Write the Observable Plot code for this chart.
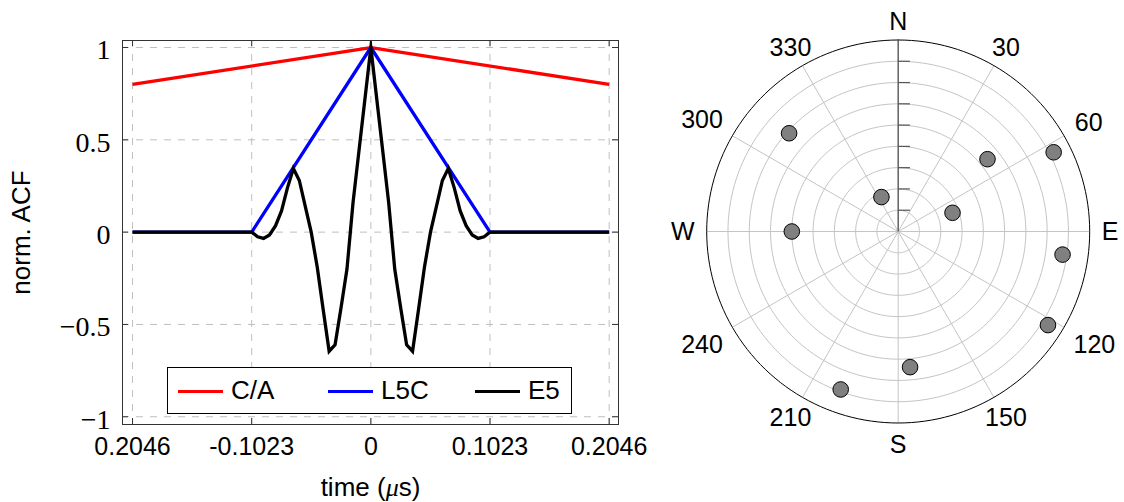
<!DOCTYPE html>
<html>
<head>
<meta charset="utf-8">
<script src="https://cdn.jsdelivr.net/npm/d3@7"></script>
<script src="https://cdn.jsdelivr.net/npm/@observablehq/plot@0.6"></script>
<style>
  html, body { margin: 0; padding: 0; background: #fff; }
  #wrap { position: relative; width: 1124px; height: 502px; overflow: hidden; font-family: "Liberation Sans", Arial, sans-serif; }
  #acf { position: absolute; left: 0; top: 0; }
  #sky { position: absolute; left: 650px; top: 0; }
  #legend { position: absolute; left: 167px; top: 367px; width: 405px; height: 47px; border: 1px solid #000; background: #fff; box-sizing: border-box; }
  #legend .sw { position: absolute; width: 45px; height: 3.3px; top: 21.8px; }
  #legend .lb { position: absolute; top: 8.5px; font-size: 26px; line-height: 26px; color: #000; }
</style>
</head>
<body>
<div id="wrap">
  <div id="acf"></div>
  <div id="sky"></div>
  <div id="legend"></div>
</div>
<script>
// ---- Autocorrelation functions (time offset in µs, normalised ACF) ----
const caTime = [-0.2046, 0, 0.2046];
const caValue = [0.8, 1, 0.8];

const l5cTime = [-0.2046, -0.1023, 0, 0.1023, 0.2046];
const l5cValue = [0, 0, 1, 0, 0];

const e5Time = [
  -0.2046, -0.1023, -0.0972, -0.0921, -0.0870, -0.0818, -0.0767, -0.0716, -0.0665,
  -0.0614, -0.0563, -0.0512, -0.0460, -0.0409, -0.0358, -0.0307, -0.0256, -0.0205,
  -0.0153, -0.0102, -0.0051, 0,
  0.0051, 0.0102, 0.0153, 0.0205, 0.0256, 0.0307, 0.0358, 0.0409, 0.0460, 0.0512,
  0.0563, 0.0614, 0.0665, 0.0716, 0.0767, 0.0818, 0.0870, 0.0921, 0.0972, 0.1023, 0.2046
];
const e5Value = [
  0, 0, -0.025, -0.034, -0.015, 0.035, 0.115, 0.24, 0.345,
  0.28, 0.14, 0.0, -0.19, -0.42, -0.645, -0.61, -0.41, -0.2,
  0.16, 0.44, 0.72, 1,
  0.72, 0.44, 0.16, -0.2, -0.41, -0.61, -0.645, -0.42, -0.19, 0.0,
  0.14, 0.28, 0.345, 0.24, 0.115, 0.035, -0.015, -0.034, -0.025, 0, 0
];

const seriesNames = ["C/A", "L5C", "E5"];
const seriesColors = ["#ff0000", "#0000ff", "#000000"];

const xTickValues = [-0.2046, -0.1023, 0, 0.1023, 0.2046];
const xTickLabels = ["0.2046", "-0.1023", "0", "0.1023", "0.2046"];
const yTickValues = [-1, -0.5, 0, 0.5, 1];
const yTickLabels = ["\u22121", "\u22120.5", "0", "0.5", "1"];

// ---- Sky plot: satellite azimuth / elevation in degrees ----
const satAzimuth = [312, 51, 63, 334, 71, 270, 98, 122, 175, 200];
const satElevation = [21, 36, 8, 72, 63, 40, 12, 7, 26, 11];

const ringElevations = [80, 70, 60, 50, 40, 30, 20, 10];
const spokeAzimuths = [0, 30, 60, 90, 120, 150, 180, 210, 240, 270, 300, 330];
const compassLabels = ["N", "30", "60", "E", "120", "150", "S", "210", "240", "W", "300", "330"];

// ---------------------------------------------------------------------------
const toRows = (t, v) => t.map((x, i) => ({t: x, v: v[i]}));
const caRows = toRows(caTime, caValue);
const l5cRows = toRows(l5cTime, l5cValue);
const e5Rows = toRows(e5Time, e5Value);

const gridStyle = {stroke: "#bfbfbf", strokeOpacity: 1, strokeWidth: 1, strokeDasharray: "7,7"};
const tickStyle = {stroke: "#333", strokeWidth: 1};
const plotH = 502 - 40 - 78;
const plotW = 650 - 122 - 32;
const tickLen = 6;

const acf = Plot.plot({
  width: 650,
  height: 502,
  marginLeft: 122,
  marginRight: 32,
  marginTop: 40,
  marginBottom: 78,
  x: {domain: [-0.2132, 0.2126], axis: null},
  y: {domain: [-1.042, 1.038], axis: null},
  marks: [
    Plot.ruleX(xTickValues, {x: d => d, ...gridStyle}),
    Plot.ruleY(yTickValues, {y: d => d, ...gridStyle}),
    // inward ticks on all four sides
    Plot.ruleX(xTickValues, {x: d => d, insetTop: plotH - tickLen, ...tickStyle}),
    Plot.ruleX(xTickValues, {x: d => d, insetBottom: plotH - tickLen, ...tickStyle}),
    Plot.ruleY(yTickValues, {y: d => d, insetRight: plotW - tickLen, ...tickStyle}),
    Plot.ruleY(yTickValues, {y: d => d, insetLeft: plotW - tickLen, ...tickStyle}),
    Plot.line(caRows, {x: "t", y: "v", stroke: seriesColors[0], strokeWidth: 3.3, strokeLinejoin: "miter", strokeLinecap: "butt"}),
    Plot.line(l5cRows, {x: "t", y: "v", stroke: seriesColors[1], strokeWidth: 3.3, strokeLinejoin: "miter", strokeLinecap: "butt"}),
    Plot.line(e5Rows, {x: "t", y: "v", stroke: seriesColors[2], strokeWidth: 3.3, strokeLinejoin: "miter", strokeMiterlimit: 10, strokeLinecap: "butt", clip: true}),
    Plot.frame({stroke: "#333", strokeWidth: 1}),
    Plot.text(xTickValues, {x: d => d, text: (d, i) => xTickLabels[i], frameAnchor: "bottom", lineAnchor: "middle", dy: 22, fontSize: 25, fontFamily: "Liberation Sans"}),
    Plot.text(yTickValues, {y: d => d, text: (d, i) => yTickLabels[i], frameAnchor: "left", lineAnchor: "middle", dx: -12, dy: 3, textAnchor: "end", fontSize: 28, fontFamily: "Liberation Serif"}),
    Plot.text(["norm. ACF"], {frameAnchor: "left", textAnchor: "middle", lineAnchor: "middle", dx: -101, rotate: -90, fontSize: 26, fontFamily: "Liberation Sans"}),
    Plot.text(["time (\u03bcs)"], {frameAnchor: "bottom", textAnchor: "middle", lineAnchor: "middle", dy: 63, fontSize: 26, fontFamily: "Liberation Sans"})
  ]
});

// set the µ of the time unit in math italic
d3.select(acf).selectAll("text")
  .filter(function () { return this.textContent === "time (\u03bcs)"; })
  .each(function () {
    const t = d3.select(this);
    t.text(null);
    t.append("tspan").text("time (");
    t.append("tspan").attr("font-style", "italic").attr("font-family", "Liberation Serif").text("\u03bc");
    t.append("tspan").text("s)");
  });
document.getElementById("acf").appendChild(acf);

// legend inside the plot area
const legend = document.getElementById("legend");
const swatchLeft = [10, 160, 307];
const labelLeft = [63, 213, 360];
seriesNames.forEach((name, i) => {
  const sw = document.createElement("div");
  sw.className = "sw";
  sw.style.left = swatchLeft[i] + "px";
  sw.style.background = seriesColors[i];
  legend.appendChild(sw);
  const lb = document.createElement("div");
  lb.className = "lb";
  lb.style.left = labelLeft[i] + "px";
  lb.textContent = name;
  legend.appendChild(lb);
});

// ---------------------------------------------------------------------------
// Sky plot: radius = 90 - elevation, azimuth clockwise from north
const rad = Math.PI / 180;
const polar = (az, el) => ({x: (90 - el) * Math.sin(az * rad), y: (90 - el) * Math.cos(az * rad)});

const circlePoints = (el) => d3.range(0, 361, 2).map(a => ({ring: el, ...polar(a, el)}));
const ringRows = ringElevations.flatMap(circlePoints);
const horizonRows = circlePoints(0);
const satRows = satAzimuth.map((az, i) => ({az, el: satElevation[i], ...polar(az, satElevation[i])}));

const R = 191.5;               // horizon radius in pixels
const fontPx = 25;
const charEm = {N: 0.722, E: 0.667, S: 0.667, W: 0.944};
// place each compass label just outside the horizon, clear of its own text box
const labelRows = spokeAzimuths.map((az, i) => {
  const s = compassLabels[i];
  const w = [...s].reduce((a, c) => a + (charEm[c] || 0.556), 0) * fontPx;
  const hw = w / 2 + 3, hh = 13;
  const sn = Math.abs(Math.sin(az * rad)), cs = Math.cos(az * rad);
  const reach = Math.min(Math.abs(cs) > 1e-6 ? hh / Math.abs(cs) : Infinity, sn > 1e-6 ? hw / sn : Infinity);
  const r = 90 * (R + 9 + reach) / R;
  const drop = 4 * Math.max(0, cs) * 90 / R;   // upper labels sit on their baseline
  return {text: s, x: r * Math.sin(az * rad), y: r * cs - drop};
});

const sky = Plot.plot({
  width: 474,
  height: 502,
  marginLeft: 247.7 - R,
  marginRight: 474 - 247.7 - R,
  marginTop: 231 - R,
  marginBottom: 502 - 231 - R,
  x: {domain: [-90, 90], axis: null},
  y: {domain: [-90, 90], axis: null},
  marks: [
    Plot.line(ringRows, {x: "x", y: "y", z: "ring", stroke: "#c4c4c4", strokeWidth: 1}),
    Plot.link(spokeAzimuths, {x1: 0, y1: 0, x2: d => polar(d, 0).x, y2: d => polar(d, 0).y, stroke: "#c4c4c4", strokeWidth: 1}),
    Plot.line(horizonRows, {x: "x", y: "y", stroke: "#000", strokeWidth: 1}),
    Plot.link([0], {x1: 0, y1: 0, x2: 0, y2: 90, stroke: "#555", strokeWidth: 1.3}),
    Plot.link(ringElevations, {x1: 0, x2: 5.5, y1: d => 90 - d, y2: d => 90 - d, stroke: "#555", strokeWidth: 1.2}),
    Plot.dot(satRows, {x: "x", y: "y", r: 7.8, fill: "#808080", stroke: "#000", strokeWidth: 1}),
    Plot.text(labelRows, {x: "x", y: "y", text: "text", fontSize: fontPx, fontFamily: "Liberation Sans"})
  ]
});
document.getElementById("sky").appendChild(sky);
</script>
</body>
</html>
